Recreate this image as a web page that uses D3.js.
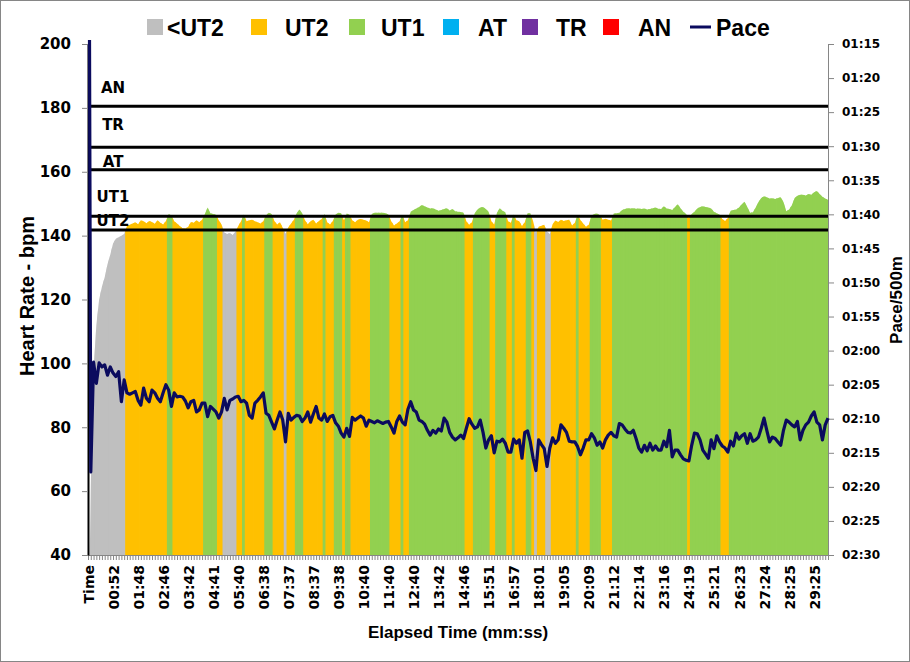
<!DOCTYPE html>
<html><head><meta charset="utf-8">
<script src="https://cdn.jsdelivr.net/npm/d3@7"></script>
<style>body{margin:0;background:#fff}svg{display:block}</style>
</head><body>
<svg id="chart" width="910" height="662"></svg>
<script>
// ---------------- data ----------------
const heartRate = [
  0, 62, 98, 112, 120, 124, 127, 131, 134, 137.5, 139, 139.5, 140, 140.5, 143.0,
  143.4,
  143.8, 144.2, 143.6, 144.8, 144.5, 143.9, 144.6, 144.3, 143.7, 144.8, 144.0, 143.5, 144.6, 146.8, 146.3,
  144.5, 143.8, 143.0, 142.3, 142.2, 142.8, 144.3, 144.0, 144.8, 144.2, 145.0, 146.8, 148.8, 147.0,
  146.8,
  146.5, 144.8, 143.5, 141.0, 140.5, 140.8, 140.2, 141.2, 143.0, 144.5, 146.6, 144.5, 144.8, 145.0,
  144.5, 144.2, 143.8, 144.5, 146.4, 147.2, 146.8, 144.6, 143.5, 144.2, 142.5, 140.6, 142.6, 143.8,
  145.0,
  147.0, 148.2, 147.0, 144.8, 143.6, 144.5, 145.0, 143.8, 144.6, 145.2, 146.8, 144.2, 143.5, 144.6, 146.6,
  147.2, 147.0, 144.8, 146.9, 146.5, 144.8, 144.2, 145.0, 145.2, 145.0, 144.7, 144.2, 146.8, 147.2,
  147.2,
  147.2, 147.2, 147.0, 146.6, 144.5, 143.2, 143.8, 144.5, 146.5, 144.2, 144.8, 147.5, 148.0, 148.5,
  149.0, 149.6, 149.2, 148.8, 148.5, 148.6, 148.2, 147.8, 148.0, 148.3, 148.6, 147.9, 148.3, 147.6,
  147.5,
  147.4, 147.2, 144.5, 143.4, 144.2, 147.0, 148.2, 148.8, 149.0, 148.3, 147.5, 144.5, 143.5, 147.2, 148.6,
  147.8, 147.3, 144.5, 144.0, 146.6, 144.8, 144.5, 143.0, 144.2, 147.0, 147.0, 144.5, 140.9, 142.8,
  143.1,
  143.4, 141.3, 140.5, 143.6, 144.7, 144.3, 145.0, 144.6, 144.8, 145.0, 143.2, 144.0, 146.5, 144.9, 143.8,
  142.8, 143.4, 146.3, 146.8, 146.9, 146.4, 145.0, 145.3, 145.0, 144.7, 146.9, 147.0, 147.2, 148.0,
  148.3,
  148.6, 148.5, 148.6, 148.4, 148.5, 148.3, 148.5, 148.2, 148.3, 148.6, 148.8, 148.4, 148.3, 149.2,
  148.5, 148.3, 148.0, 149.0, 149.8, 148.6, 147.5, 146.8, 145.5, 146.8, 147.5, 148.5, 149.0, 149.2,
  149.0,
  148.8, 148.5, 147.5, 147.0, 146.6, 145.2, 144.6, 145.5, 147.8, 148.0, 148.2, 148.8, 149.8, 150.6, 149.0,
  147.2, 147.3, 148.8, 150.5, 151.8, 152.3, 152.0, 151.6, 151.7, 151.5, 151.8, 152.0, 150.5, 147.6,
  148.2,
  149.5, 151.8, 152.5, 152.8, 152.8, 152.6, 153.0, 152.8, 153.6, 154.0, 153.0, 152.2, 151.6, 151.2
];
// pace per 500m, in seconds
const paceSeconds = [
  0, 137.8, 121.7, 124.8, 121.8, 122.4, 122.1, 123.6, 122.4, 123.3, 123.8, 123.1, 127.5, 124.3, 126.2,
  126.4,
  126.2, 126.0, 127.3, 128.0, 125.5, 127.0, 127.5, 125.8, 126.2, 127.0, 127.5, 126.2, 125.0, 125.8, 128.2,
  126.2, 126.8, 126.7, 126.8, 127.4, 128.4, 127.5, 127.3, 129.0, 128.7, 127.7, 127.7, 129.7, 128.2,
  128.6,
  129.0, 129.9, 129.0, 127.0, 128.7, 127.3, 127.1, 126.8, 126.7, 127.5, 127.3, 127.7, 129.5, 129.9,
  127.7, 127.3, 126.8, 126.2, 129.2, 129.5, 130.5, 131.5, 130.2, 129.0, 130.2, 133.4, 129.2, 130.2,
  129.8,
  129.5, 129.6, 130.4, 129.9, 129.0, 130.5, 129.3, 128.2, 129.9, 130.2, 129.3, 130.4, 129.7, 129.5, 130.6,
  131.1, 132.1, 132.7, 131.4, 132.6, 129.8, 130.2, 129.9, 129.6, 129.9, 131.1, 130.2, 130.4, 130.6,
  130.3,
  130.5, 130.7, 130.5, 130.4, 131.2, 132.1, 130.4, 129.6, 130.5, 130.9, 128.6, 127.5, 128.7, 129.0,
  130.2, 130.4, 130.8, 131.7, 132.4, 131.7, 132.1, 131.5, 131.8, 129.9, 130.5, 132.0, 132.7, 133.1,
  132.8,
  132.4, 132.9, 131.4, 130.0, 130.8, 131.4, 131.2, 130.2, 132.0, 134.3, 133.1, 132.5, 135.0, 133.3, 133.4,
  133.0, 133.6, 134.9, 134.9, 133.0, 133.6, 133.1, 135.8, 132.0, 131.8, 133.4, 135.8, 137.6, 133.1,
  133.8,
  134.4, 137.0, 134.3, 132.8, 133.6, 133.1, 130.9, 131.4, 132.0, 133.3, 133.4, 133.4, 134.1, 135.3, 134.3,
  133.1, 133.1, 132.2, 132.8, 133.9, 133.4, 134.3, 133.1, 132.4, 132.0, 132.5, 132.7, 130.7, 130.9,
  131.5,
  132.0, 132.1, 131.7, 132.9, 134.3, 134.9, 133.9, 134.7, 133.6, 134.6, 134.0, 134.6, 134.6, 133.3,
  134.1, 131.7, 135.6, 134.6, 134.6, 135.3, 135.9, 136.1, 136.2, 133.9, 132.1, 132.2, 133.1, 134.6,
  135.2,
  135.8, 133.1, 134.4, 132.5, 133.4, 134.0, 134.3, 134.9, 133.3, 134.0, 132.1, 133.0, 132.5, 132.2, 133.6,
  132.2, 133.3, 133.1, 132.7, 131.4, 129.9, 131.7, 133.4, 132.7, 132.9, 133.4, 133.9, 131.7, 130.2,
  130.5,
  130.9, 131.2, 130.4, 133.1, 131.7, 130.9, 130.5, 129.6, 129.0, 130.5, 130.9, 133.1, 130.9, 129.9
];
const tickLabels = ["Time","00:52","01:48","02:46","03:42","04:41","05:40","06:38","07:37","08:37",
  "09:38","10:40","11:40","12:40","13:42","14:46","15:51","16:57","18:01","19:05",
  "20:09","21:12","22:14","23:16","24:19","25:21","26:23","27:24","28:25","29:25"];
const labelEvery = 9;
const zoneNames = ["<UT2","UT2","UT1","AT","TR","AN"];
const zoneColors = ["#bfbfbf","#ffc000","#92d050","#00b0f0","#7030a0","#ff0000"];
const thresholdNames = ["UT2","UT1","AT","TR","AN"];
const thresholdValues = [141.8, 146.1, 160.6, 167.7, 180.5];
const thresholdLabelValues = [143.1, 150.4, 161.6, 173.1, 184.6];
const hrTicks = [40,60,80,100,120,140,160,180,200];
const paceTicks = [75,80,85,90,95,100,105,110,115,120,125,130,135,140,145,150];
const paceColor = "#0b0b5e";

// ---------------- layout ----------------
const L = 88, R = 828, T = 44, B = 555;
const svg = d3.select("#chart");
const N = heartRate.length;
const idx = d3.range(N);
const x = d3.scalePoint().domain(idx).range([L, R]);
const step = x.step();
const yHR = d3.scaleLinear().domain([40, 200]).range([B, T]);
const yPace = d3.scaleLinear().domain([75, 150]).range([T, B]);
const fmt = s => { const m = Math.floor(s / 60), r = Math.round(s - m * 60); return String(m).padStart(2,"0") + ":" + String(r).padStart(2,"0"); };
const zoneOf = v => { let z = 0; thresholdValues.forEach(t => { if (v >= t) z++; }); return z; };

svg.append("rect").attr("x",0.5).attr("y",0.5).attr("width",909).attr("height",661)
  .attr("fill","#fff").attr("stroke","#868686");

const defs = svg.append("defs");
defs.append("clipPath").attr("id","plotClip").append("rect")
  .attr("x",L).attr("y",T).attr("width",R-L).attr("height",B-T);
defs.append("clipPath").attr("id","lineClip").append("rect")
  .attr("x",L-3).attr("y",T-4).attr("width",R-L+6).attr("height",B-T+4);
const area = d3.area().x(i => x(i)).y0(B).y1(i => yHR(heartRate[i]));
defs.append("clipPath").attr("id","hrClip").append("path").attr("d", area(idx));

// HR area coloured by zone
svg.append("g").attr("clip-path","url(#plotClip)")
  .append("g").attr("clip-path","url(#hrClip)")
  .selectAll("rect").data(idx).join("rect")
  .attr("x", i => x(i) - step/2 - 0.4)
  .attr("width", step + 0.8)
  .attr("y", T).attr("height", B - T)
  .attr("fill", i => zoneColors[zoneOf(heartRate[i])]);

// axes
const gx = svg.append("g").attr("transform",`translate(0,${B})`)
  .call(d3.axisBottom(x).tickValues(idx).tickSize(5).tickSizeOuter(0)
    .tickFormat(i => i % labelEvery === 0 ? (tickLabels[i/labelEvery] || "") : ""));
gx.select(".domain").attr("stroke","#868686");
gx.selectAll(".tick line").attr("stroke","#868686");
gx.selectAll("text").attr("transform","rotate(-90)").attr("text-anchor","end")
  .attr("x",-10).attr("y",0).attr("dy","0.36em")
  .attr("font-family","DejaVu Sans").attr("font-weight","bold").attr("font-size",14).attr("fill","#000");

const gl = svg.append("g").attr("transform",`translate(${L},0)`)
  .call(d3.axisLeft(yHR).tickValues(hrTicks).tickSize(6).tickSizeOuter(0).tickPadding(11));
gl.select(".domain").attr("stroke","#000").attr("stroke-width",2);
gl.selectAll(".tick line").attr("stroke","#868686");
gl.selectAll("text").attr("font-family","DejaVu Sans").attr("font-weight","bold").attr("font-size",15).attr("fill","#000");

const gr = svg.append("g").attr("transform",`translate(${R},0)`)
  .call(d3.axisRight(yPace).tickValues(paceTicks).tickSize(6).tickSizeOuter(0).tickPadding(8).tickFormat(fmt));
gr.select(".domain").attr("stroke","#868686");
gr.selectAll(".tick line").attr("stroke","#868686");
gr.selectAll("text").attr("font-family","DejaVu Sans").attr("font-weight","bold").attr("font-size",12).attr("fill","#000");

// threshold labels then lines
svg.append("g").selectAll("text").data(thresholdNames).join("text")
  .attr("x", x(9)).attr("y", (d,k) => yHR(thresholdLabelValues[k]))
  .attr("text-anchor","middle").attr("font-family","DejaVu Sans").attr("font-weight","bold")
  .attr("font-size",15).text(d => d);
svg.append("g").selectAll("line").data(thresholdValues).join("line")
  .attr("x1", L + 2).attr("x2", R).attr("y1", d => yHR(d)).attr("y2", d => yHR(d))
  .attr("stroke","#000").attr("stroke-width",3);

// pace line
svg.append("path").datum(idx).attr("clip-path","url(#lineClip)")
  .attr("fill","none").attr("stroke",paceColor).attr("stroke-width",3.2).attr("stroke-linejoin","round")
  .attr("d", d3.line().x(i => x(i)).y(i => yPace(paceSeconds[i])));

// titles
const titleFont = "Liberation Sans";
svg.append("text").attr("transform","translate(34,296) rotate(-90)").attr("text-anchor","middle")
  .attr("font-family",titleFont).attr("font-weight","bold").attr("font-size",20).text("Heart Rate - bpm");
svg.append("text").attr("transform","translate(902,300) rotate(-90)").attr("text-anchor","middle")
  .attr("font-family",titleFont).attr("font-weight","bold").attr("font-size",17).text("Pace/500m");
svg.append("text").attr("x",458).attr("y",638).attr("text-anchor","middle")
  .attr("font-family",titleFont).attr("font-weight","bold").attr("font-size",17).text("Elapsed Time (mm:ss)");

// legend (marker x, text x)
const legendMarkX = [147, 251, 349, 443, 522, 603, 690];
const legendTextX = [167, 285, 381, 478, 556, 638, 716];
const legendItems = zoneNames.map((n,k) => ({name:n, color:zoneColors[k], type:"rect"}))
  .concat([{name:"Pace", color:paceColor, type:"line"}]);
const lg = svg.append("g");
legendItems.forEach((it,k) => {
  if (it.type === "rect") {
    lg.append("rect").attr("x",legendMarkX[k]).attr("y",19).attr("width",16).attr("height",16).attr("fill",it.color);
  } else {
    lg.append("line").attr("x1",legendMarkX[k]).attr("x2",legendMarkX[k]+21).attr("y1",27).attr("y2",27)
      .attr("stroke",it.color).attr("stroke-width",3);
  }
  lg.append("text").attr("x",legendTextX[k]).attr("y",35.5).attr("font-family",titleFont)
    .attr("font-weight","bold").attr("font-size",23).text(it.name);
});
</script>
</body></html>
